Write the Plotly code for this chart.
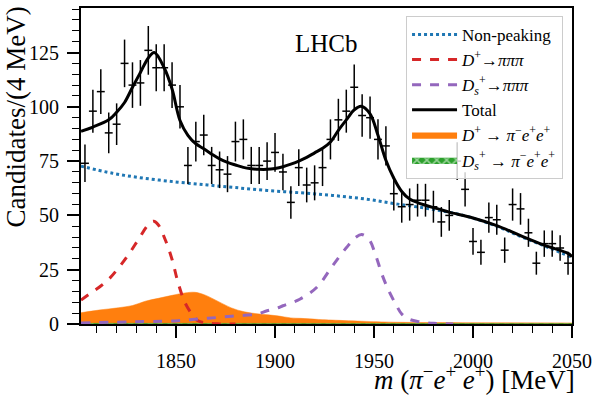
import numpy as np
import plotly.graph_objects as go

# ---- data ----
bin_centers = list(range(1804, 2049, 4))
counts = [74, 98, 107, 88, 92, 120, 110, 111, 126, 118, 118, 110, 100, 73, 84, 87,
          73, 71, 69, 84, 85, 73, 73, 75, 79, 70, 56, 72, 64, 65, 72, 85,
          94, 98, 109, 96, 95, 85, 82, 60, 54, 55, 57, 57, 54, 47, 50, 75,
          62, 38, 33, 49, 48, 34, 55, 53, 42, 28, 37, 37, 35, 28]

total_x = [1802, 1808, 1816, 1820, 1824, 1828, 1832, 1836, 1839, 1844, 1848, 1852, 1856,
           1860, 1864, 1868, 1872, 1876, 1880, 1884, 1888, 1892, 1896, 1900, 1904, 1908,
           1912, 1916, 1920, 1924, 1928, 1932, 1936, 1940, 1943.5, 1948, 1952, 1956, 1960,
           1964, 1968, 1972, 1976, 1980, 1984, 1988, 2000, 2012, 2024, 2036, 2048, 2050]
total_y = [88.7, 90.7, 94.0, 97.5, 102.0, 109.0, 115.8, 122.5, 125.0, 118.0, 108.2, 93.7, 86.9,
           83.0, 80.7, 78.2, 76.0, 74.4, 73.2, 72.1, 71.5, 71.2, 71.2, 71.6, 72.4, 73.6,
           75.0, 76.7, 78.8, 80.9, 83.8, 89.2, 94.0, 98.6, 100.3, 96.8, 86.9, 75.4, 67.1,
           61.0, 57.5, 55.9, 54.7, 53.6, 52.6, 51.5, 48.8, 45.3, 40.7, 36.3, 32.5, 31.0]

bkg_x = [1802, 1818, 1834, 1851, 1866, 1880, 1896, 1913, 1929, 1946, 1962, 1979, 1996, 2012, 2024, 2036, 2050]
bkg_y = [72.7, 69.4, 67.1, 65.3, 64.0, 62.8, 61.5, 60.4, 59.2, 57.5, 55.2, 52.9, 49.8, 45.0, 40.3, 36.0, 30.7]

dp_x = [1802, 1806, 1811, 1816, 1821, 1826, 1831, 1836, 1838.7, 1841, 1844.5, 1848, 1851, 1854.5,
        1858, 1861, 1866, 1872, 1880]
dp_y = [11.0, 13.7, 16.8, 20.6, 25.9, 32.0, 38.9, 45.7, 47.3, 45.7, 38.9, 29.7, 19.1, 9.9,
        4.6, 1.5, 0.4, 0.05, 0.0]

ds_x = [1802, 1834, 1851, 1861, 1871, 1881, 1891, 1896, 1901, 1904, 1912.5, 1921, 1929, 1936,
        1941, 1943.8, 1947.5, 1951, 1954, 1957.5, 1961, 1964, 1967.5, 1972.5, 1980, 1990]
ds_y = [0.5, 1.1, 1.5, 2.3, 3.0, 3.8, 4.6, 6.1, 7.3, 8.4, 11.4, 16.8, 26.7, 35.1,
        40.1, 41.2, 38.9, 31.2, 22.9, 15.2, 9.1, 4.6, 2.3, 1.1, 0.3, 0.0]

dpee_x = [1802, 1811, 1821, 1828, 1834.5, 1841, 1848, 1854.5, 1859.5, 1864.5, 1871.5, 1878,
          1884.5, 1892, 1901, 1908, 1913, 1922, 1929, 1946, 1962, 2000, 2050]
dpee_y = [5.2, 6.4, 7.5, 8.5, 10.5, 11.8, 13.2, 14.3, 14.6, 13.4, 10.3, 7.4,
          5.6, 4.6, 3.8, 2.8, 2.6, 2.1, 1.8, 1.2, 0.8, 0.6, 0.5]

dsee_x = [1802, 1900, 2050]
dsee_y = [0.3, 0.3, 0.2]

x_ticks = [1850, 1900, 1950, 2000, 2050]
y_ticks = [0, 25, 50, 75, 100, 125]

FONT = "Liberation Serif"

fig = go.Figure()

fig.add_trace(go.Scatter(x=dpee_x, y=dpee_y, mode="lines", fill="tozeroy",
                         line=dict(color="#ff7f0e", width=0.5, shape="spline"),
                         fillcolor="#ff7f0e",
                         name="<i>D</i><sup>+</sup> → <i>π</i><sup>−</sup><i>e</i><sup>+</sup><i>e</i><sup>+</sup>",
                         legendrank=5))
fig.add_trace(go.Scatter(x=dsee_x, y=dsee_y, mode="lines", fill="tozeroy",
                         line=dict(color="#2ca02c", width=0.5),
                         fillcolor="#2ca02c",
                         fillpattern=dict(shape="x", bgcolor="#2ca02c", fgcolor="white", size=7, solidity=0.4),
                         name="<i>D</i><sub><i>s</i></sub><sup>+</sup> → <i>π</i><sup>−</sup><i>e</i><sup>+</sup><i>e</i><sup>+</sup>",
                         legendrank=6))
fig.add_trace(go.Scatter(x=bkg_x, y=bkg_y, mode="lines",
                         line=dict(color="#1f77b4", width=3, dash="dot", shape="spline"),
                         name="Non-peaking", legendrank=1))
fig.add_trace(go.Scatter(x=dp_x, y=dp_y, mode="lines",
                         line=dict(color="#d62728", width=3, dash="dash", shape="spline"),
                         name="<i>D</i><sup>+</sup>→<i>πππ</i>", legendrank=2))
fig.add_trace(go.Scatter(x=ds_x, y=ds_y, mode="lines",
                         line=dict(color="#9467bd", width=3, dash="dash", shape="spline"),
                         name="<i>D</i><sub><i>s</i></sub><sup>+</sup>→<i>πππ</i>", legendrank=3))
fig.add_trace(go.Scatter(x=total_x, y=total_y, mode="lines",
                         line=dict(color="black", width=3, shape="spline"),
                         name="Total", legendrank=4))

errs = np.sqrt(np.array(counts, dtype=float))
fig.add_trace(go.Scatter(x=bin_centers, y=counts, mode="markers",
                         marker=dict(size=1, color="black"),
                         error_y=dict(type="data", array=errs, color="black", thickness=1.5, width=0),
                         error_x=dict(type="constant", value=2, color="black", thickness=1.5, width=0),
                         showlegend=False))

axis_common = dict(showline=True, linecolor="black", linewidth=2, mirror=True,
                   ticks="outside", tickcolor="black", tickwidth=1.5, ticklen=12,
                   showgrid=False, zeroline=False,
                   tickfont=dict(family=FONT, size=20, color="black"))

fig.update_xaxes(range=[1802, 2050], tickvals=x_ticks,
                 minor=dict(dtick=10, tick0=1800, ticks="outside", ticklen=7, tickwidth=1.2, tickcolor="black"),
                 ticklabelstandoff=6, **axis_common)
fig.update_yaxes(range=[0, 145.5], tickvals=y_ticks,
                 minor=dict(dtick=5, tick0=0, ticks="outside", ticklen=7, tickwidth=1.2, tickcolor="black"),
                 ticklabelstandoff=4, **axis_common)

fig.add_annotation(text="LHCb", x=0.5, y=0.887, xref="paper", yref="paper",
                   xanchor="center", yanchor="middle", showarrow=False,
                   font=dict(family=FONT, size=25, color="black"))
fig.add_annotation(text="Candidates/(4 MeV)", x=-0.133, y=1.012, xref="paper", yref="paper",
                   xanchor="center", yanchor="top", textangle=-90, showarrow=False,
                   font=dict(family=FONT, size=27, color="black"))
fig.add_annotation(text="<i>m</i> (<i>π</i><sup>−</sup><i>e</i><sup>+</sup> <i>e</i><sup>+</sup>) [MeV]",
                   x=1.01, y=-0.17, xref="paper", yref="paper",
                   xanchor="right", yanchor="middle", showarrow=False,
                   font=dict(family=FONT, size=27, color="black"))

fig.update_layout(
    width=598, height=396,
    margin=dict(l=81, r=21, t=6, b=72),
    plot_bgcolor="white", paper_bgcolor="white",
    font=dict(family=FONT, color="black"),
    legend=dict(x=0.662, y=0.975, xanchor="left", yanchor="top",
                bgcolor="rgba(255,255,255,0.8)", bordercolor="#cccccc", borderwidth=1,
                font=dict(family=FONT, size=17, color="black"),
                itemwidth=45, tracegroupgap=0),
)

fig.write_html("out.html", config={"displayModeBar": False},
               post_script="document.body.style.margin='0';document.body.style.overflow='hidden';")
